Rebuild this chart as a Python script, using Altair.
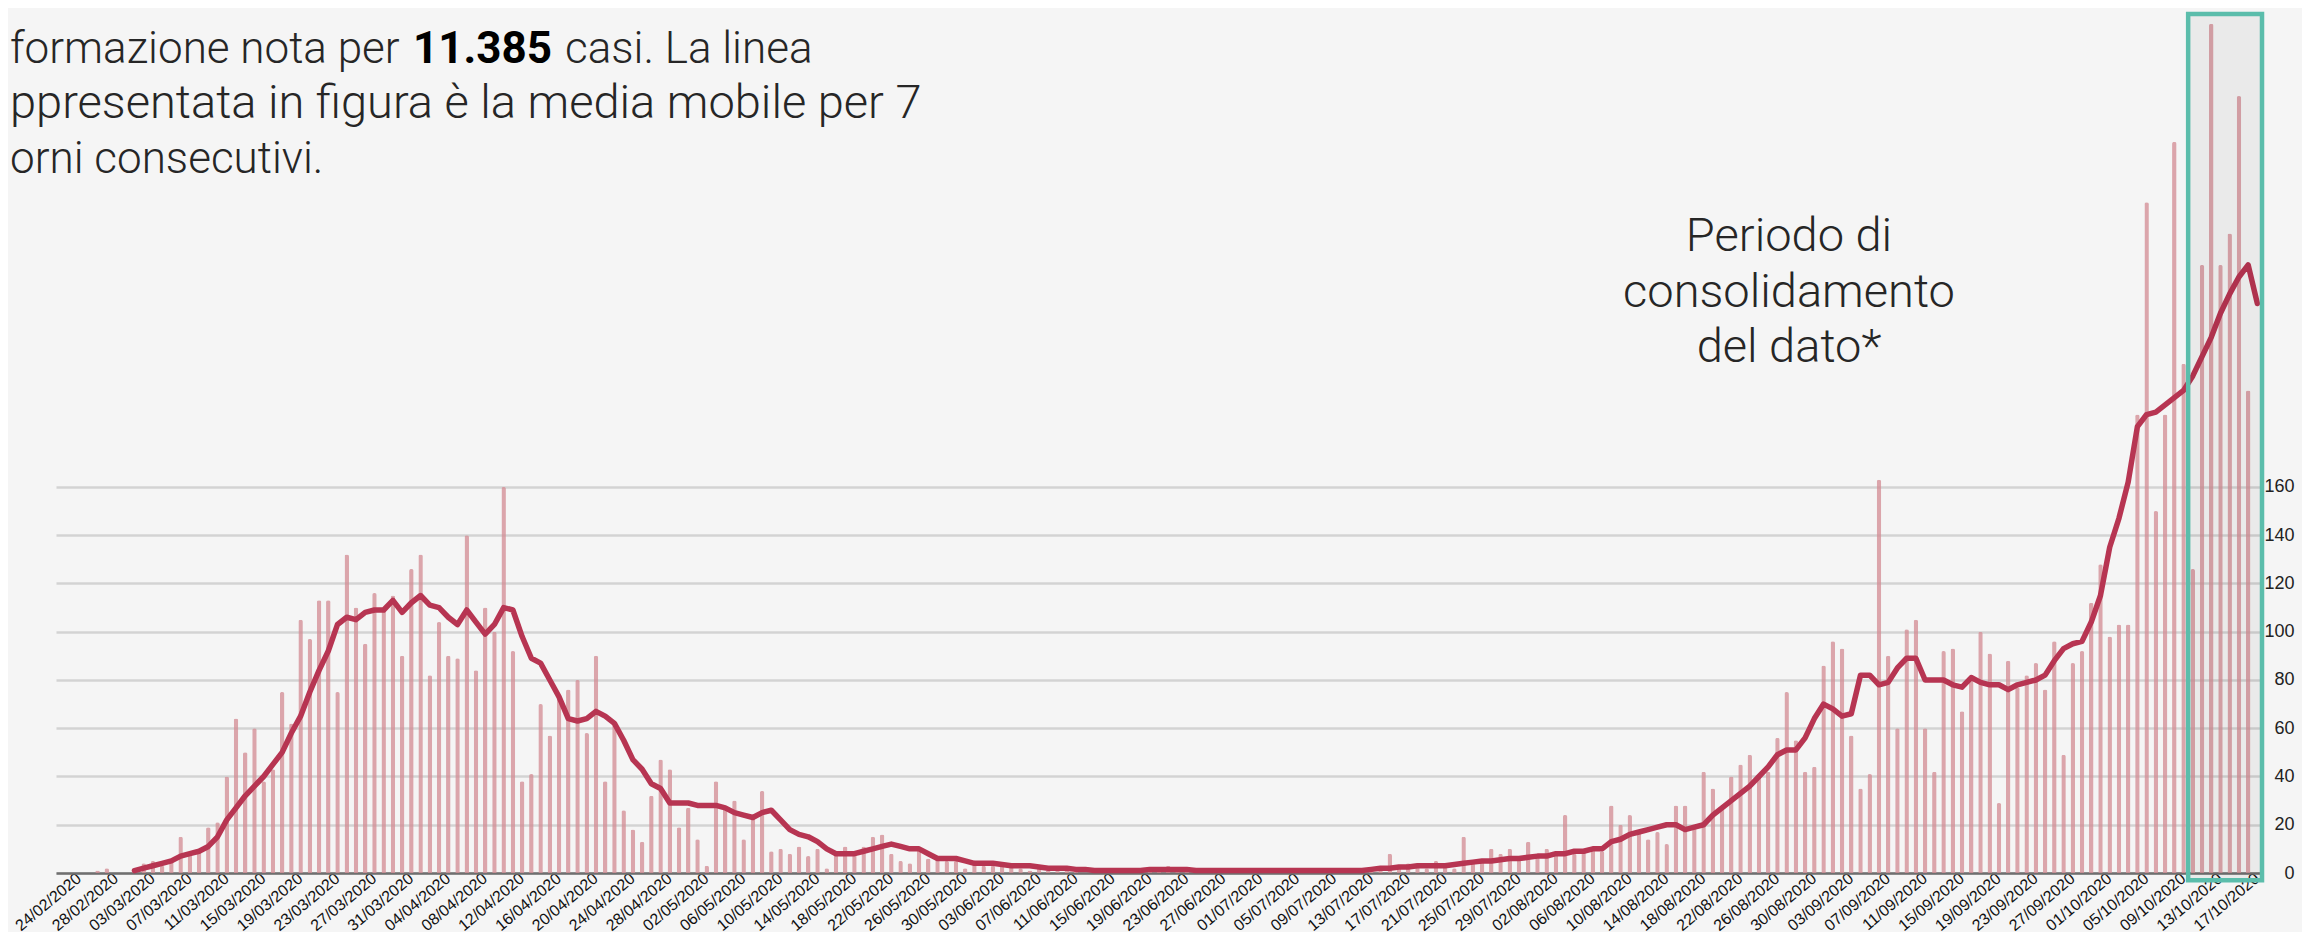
import altair as alt
import pandas as pd

# ---- data -------------------------------------------------------------
giorni = pd.date_range("2020-02-22", "2020-10-17", freq="D").strftime("%d/%m/%Y").tolist()

casi = [
    0, 0, 0, 0, 1, 2, 0, 0,
    2, 4, 5, 3, 6, 15, 8, 10, 19, 21,
    40, 64, 50, 60, 38, 43, 75, 62, 105, 97,
    113, 113, 75, 132, 110, 95, 116, 110, 115, 90,
    126, 132, 82, 104, 90, 89, 140, 84, 110, 100,
    160, 92, 38, 41, 70, 57, 74, 76, 80, 58,
    90, 38, 62, 26, 18, 13, 32, 47, 43, 19,
    27, 14, 3, 38, 28, 30, 14, 24, 34, 9,
    10, 8, 11, 7, 10, 2, 8, 11, 9, 11,
    15, 16, 8, 5, 4, 10, 6, 6, 5, 5,
    2, 4, 3, 3, 4, 3, 2, 1, 2, 1,
    2, 2, 1, 0, 1, 1, 2, 1, 0, 1,
    2, 1, 3, 1, 2, 1, 1, 0, 1, 2,
    1, 0, 1, 1, 0, 1, 2, 1, 1, 0,
    1, 2, 1, 1, 2, 1, 8, 2, 4, 3,
    2, 5, 3, 2, 15, 4, 5, 10, 8, 10,
    6, 13, 7, 10, 8, 24, 8, 10, 10, 9,
    28, 20, 24, 17, 14, 17, 12, 28, 28, 20,
    42, 35, 28, 40, 45, 49, 40, 42, 56, 75,
    55, 42, 44, 86, 96, 93, 57, 35, 41, 163,
    90, 60, 101, 105, 60, 42, 92, 93, 67, 82,
    100, 91, 29, 88, 77, 82, 87, 76, 96, 49,
    87, 92, 112, 128, 98, 103, 103, 190, 278, 150,
    190, 303, 211, 126, 252, 352, 252, 265, 322, 200,
    0,
]

# 7-day moving average line, from 01/03/2020 onwards
media_mobile = [
    1, 2, 3, 4, 5, 7, 8, 9, 11, 15,
    22, 27, 32, 36, 40, 45, 50, 58, 65, 75,
    84, 92, 103, 106, 105, 108, 109, 109, 113, 108,
    112, 115, 111, 110, 106, 103, 109, 104, 99, 103,
    110, 109, 98, 89, 87, 80, 73, 64, 63, 64,
    67, 65, 62, 55, 47, 43, 37, 35, 29, 29,
    29, 28, 28, 28, 27, 25, 24, 23, 25, 26,
    22, 18, 16, 15, 13, 10, 8, 8, 8, 9,
    10, 11, 12, 11, 10, 10, 8, 6, 6, 6,
    5, 4, 4, 4, 3.5, 3, 3, 3, 2.5, 2,
    2, 2, 1.5, 1.5, 1, 1, 1, 1, 1, 1,
    1.5, 1.5, 1.5, 1.5, 1.5, 1, 1, 1, 1, 1,
    1, 1, 1, 1, 1, 1, 1, 1, 1, 1,
    1, 1, 1, 1, 1.5, 2, 2, 2.5, 2.5, 3,
    3, 3, 3, 3.5, 4, 4.5, 5, 5, 5.5, 6,
    6, 6.5, 7, 7, 8, 8, 9, 9, 10, 10,
    13, 14, 16, 17, 18, 19, 20, 20, 18, 19,
    20, 24, 27, 30, 33, 36, 40, 44, 49, 51,
    51, 56, 64, 70, 68, 65, 66, 82, 82, 78,
    79, 85, 89, 89, 80, 80, 80, 78, 77, 81,
    79, 78, 78, 76, 78, 79, 80, 82, 88, 93,
    95, 96, 104, 115, 135, 147, 162, 185, 190, 191,
    194, 197, 200, 206, 214, 222, 232, 240, 247, 252,
    236,
]
inizio_media = giorni.index("01/03/2020")

etichette_x = giorni[2::4]
tick_y = [0, 20, 40, 60, 80, 100, 120, 140, 160]

periodo_inizio = "10/10/2020"
periodo_fine = "17/10/2020"

# ---- layout -----------------------------------------------------------
W, H = 2206, 859
YMAX = 356

bars_df = pd.DataFrame({"data": giorni, "casi": casi, "idx": range(len(giorni))})
line_df = pd.DataFrame({
    "data": giorni[inizio_media:],
    "media": media_mobile,
    "idx": range(len(media_mobile)),
})

xscale = alt.Scale(domain=giorni, paddingInner=0, paddingOuter=0)
yscale = alt.Scale(domain=[0, YMAX], nice=False, zero=True)

x_axis = alt.Axis(
    values=etichette_x, labelAngle=-40, labelAlign="right", labelBaseline="middle",
    labelFontSize=16, labelFont="Liberation Sans", labelColor="#111111",
    labelPadding=3, ticks=False, domainColor="#6f6f6f", domainWidth=2.5,
    grid=False, title=None, labelOverlap=False, labelBound=False,
)
y_axis = alt.Axis(
    orient="right", values=tick_y, grid=True, gridColor="#d3d3d3", gridWidth=2.5,
    domain=False, ticks=False, labelAlign="right", labelPadding=32,
    labelFontSize=18, labelFont="Liberation Sans", labelColor="#222222", title=None,
)

bars = alt.Chart(bars_df).mark_bar(
    size=4.5, color="#d48e96", opacity=0.78,
    cornerRadiusTopLeft=2, cornerRadiusTopRight=2,
).encode(
    x=alt.X("data:O", scale=xscale, axis=x_axis, sort=None),
    y=alt.Y("casi:Q", scale=yscale, axis=y_axis),
)

line = alt.Chart(line_df).mark_line(
    color="#b73552", strokeWidth=5.5, strokeJoin="round", strokeCap="round",
).encode(
    x=alt.X("data:O", scale=xscale, sort=None),
    y=alt.Y("media:Q", scale=yscale),
    order=alt.Order("idx:Q"),
)

rect_df = pd.DataFrame({"inizio": [periodo_inizio], "fine": [periodo_fine], "top": [YMAX], "bottom": [-3]})
box = alt.Chart(rect_df).mark_rect(
    fill="#000000", fillOpacity=0.045, stroke="#5bbdab", strokeWidth=4.5,
).encode(
    x=alt.X("inizio:O", scale=xscale, bandPosition=0),
    x2=alt.X2("fine", bandPosition=1),
    y=alt.Y("top:Q", scale=yscale),
    y2="bottom:Q",
)

FONT = "Roboto"
TXT = "#262626"


def testo(t, x, y, align="left", weight=300, color=TXT, size=44):
    return alt.Chart(pd.DataFrame({"t": [t]})).mark_text(
        align=align, baseline="alphabetic", font=FONT, fontSize=size,
        fontWeight=weight, color=color,
    ).encode(text="t:N", x=alt.value(x), y=alt.value(y))


LEFT = -46  # left edge of the visible area, in plot coordinates
note = [
    testo("formazione nota per", LEFT, 49),
    testo("11.385", 357, 49, weight="bold", color="#000000"),
    testo("casi. La linea", 509, 49),
    testo("ppresentata in figura è la media mobile per 7", LEFT, 104, size=47),
    testo("orni consecutivi.", LEFT, 159),
    testo("Periodo di", 1733, 237, align="center", size=47),
    testo("consolidamento", 1733, 293, align="center", size=47),
    testo("del dato*", 1733, 348, align="center", size=47),
]

chart = alt.layer(bars, line, box, *note).properties(
    width=W, height=H,
    autosize=alt.AutoSizeParams(type="none"),
    padding={"left": 48, "top": 6, "right": 40, "bottom": 59},
    background="#f5f5f5",
).configure_view(stroke=None)

chart.save("out.html", embed_options={"renderer": "svg", "actions": False})
